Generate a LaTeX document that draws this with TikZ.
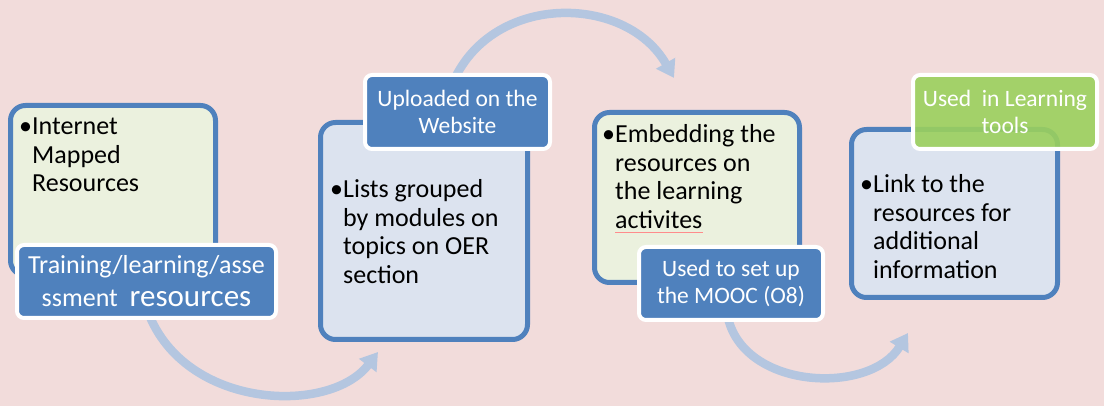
\documentclass[tikz,border=0pt]{standalone}
\usepackage{fontspec}
\setmainfont{Carlito}
\usetikzlibrary{arrows.meta}
\definecolor{bg}{HTML}{F2DCDB}
\definecolor{bdr}{HTML}{4F81BD}
\definecolor{lgreen}{HTML}{EBF1DE}
\definecolor{lblue}{HTML}{DCE3EF}
\definecolor{lblfill}{HTML}{4F81BD}
\definecolor{lblgreen}{HTML}{9BD05D}
\definecolor{arr}{HTML}{B4C6E0}
\tikzset{
  mainbox/.style={draw=bdr, line width=5pt, rounded corners=15pt, inner sep=0pt},
  lbl/.style={fill=lblfill, draw=white, line width=4pt, rounded corners=7pt, text=white,
    align=center, inner sep=0pt, font=\fontsize{23.5}{27}\selectfont},
  flow/.style={draw=arr, line width=8.5pt, -{Triangle[length=17pt,width=21pt]}},
  body/.style={anchor=base west, inner sep=0pt, font=\fontsize{26}{28.5}\selectfont}
}
\newcommand{\bul}{\makebox[13pt][l]{\textbullet}}
\begin{document}
\begin{tikzpicture}[x=1pt,y=-1pt]
\useasboundingbox[fill=bg] (0,0) rectangle (1104,406);
% arrows
\coordinate (a1s) at (148,312);
\coordinate (a1e) at (378,352);
\coordinate (a2s) at (450,90);
\coordinate (a2e) at (674,78);
\coordinate (a3s) at (728,318);
\coordinate (a3e) at (908,333);
\draw[flow] (a1s) .. controls (185,410) and (330,415) .. (a1e);
\draw[flow] (a2s) .. controls (485,-8) and (625,-8) .. (a2e);
\draw[flow] (a3s) .. controls (745,390) and (870,395) .. (a3e);
% boxes
\node[mainbox, fill=lgreen, minimum width=205pt, minimum height=170pt] (b1) at (113,190.5) {};
\node[mainbox, fill=lblue, minimum width=207pt, minimum height=217pt] (b2) at (424,231) {};
\node[mainbox, fill=lgreen, minimum width=205pt, minimum height=170pt] (b3) at (697,197.5) {};
\node[mainbox, fill=lblue, minimum width=206pt, minimum height=168pt] (b4) at (954.5,213.5) {};
% body texts
\node[body] (t1) at (19,135) {\begin{tabular}[t]{@{}l@{}l@{}}\bul&Internet\\&Mapped\\&Resources\end{tabular}};
\node[body] (t2) at (330,198) {\begin{tabular}[t]{@{}l@{}l@{}}\bul&Lists grouped\\&by modules on\\&topics on OER\\&section\end{tabular}};
\node[body] (t3) at (602,143) {\begin{tabular}[t]{@{}l@{}l@{}}\bul&Embedding the\\&resources on\\&the learning\\&activites\end{tabular}};
\node[body] (t4) at (860,193) {\begin{tabular}[t]{@{}l@{}l@{}}\bul&Link to the\\&resources for\\&additional\\&information\end{tabular}};
\draw[red!45, line width=0.7pt] (615,232) -- (703,232);
% labels
\node[lbl, minimum width=259pt, minimum height=73pt, font=\fontsize{26}{33}\selectfont] (l1) at (146.5,281.5) {Training/learning/asse\\ssment\ \ {\fontsize{31}{33}\selectfont resources}};
\node[lbl, minimum width=185pt, minimum height=74pt] (l2) at (457.5,112) {Uploaded on the\\Website};
\node[lbl, minimum width=184pt, minimum height=73pt] (l3) at (731,283.5) {Used to set up\\the MOOC (O8)};
\node[lbl, fill=lblgreen, fill opacity=0.9, text opacity=1, minimum width=184pt, minimum height=74pt] (l4) at (1005,112) {Used\ \ in Learning\\tools};
\end{tikzpicture}
\end{document}
